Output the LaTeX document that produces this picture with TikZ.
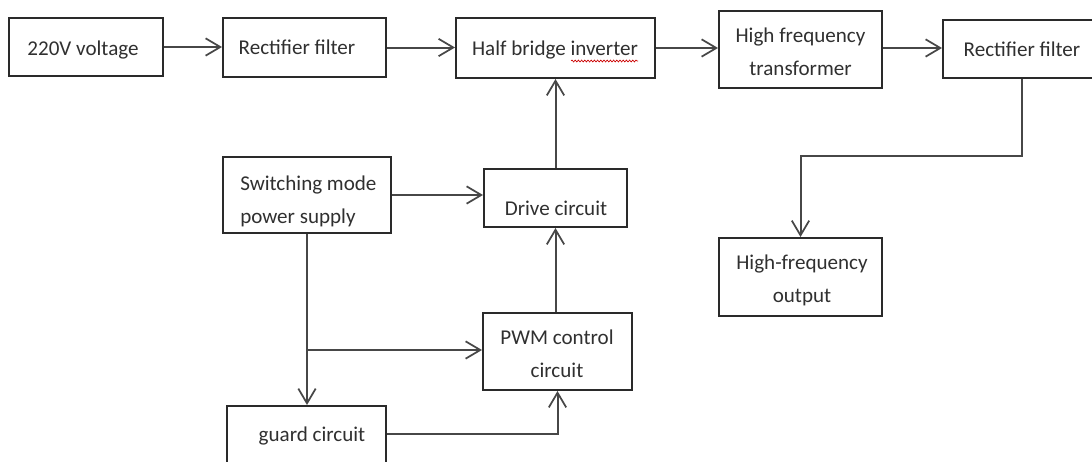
\documentclass[tikz,border=0pt]{standalone}
\usepackage{fontspec}
\setmainfont{Carlito}
\usetikzlibrary{arrows.meta,decorations.pathmorphing}
\definecolor{boxc}{HTML}{2A2A2A}
\definecolor{linec}{HTML}{474747}
\definecolor{txtc}{HTML}{303030}
\begin{document}
\begin{tikzpicture}[x=0.75pt,y=-0.75pt,
  blk/.style={draw=boxc,line width=1.5pt,inner sep=0pt},
  lbl/.style={inner sep=0pt,text=txtc,align=center,anchor=base,
    font=\fontsize{15.8}{24.75}\selectfont},
  arr/.style={draw=linec,line width=1.5pt,-{Straight Barb[length=11pt,width=13pt,line width=1.3pt]}}]
\useasboundingbox (0,0) rectangle (1092,461);
\clip (0,0) rectangle (1092,461);
\fill[white] (0,0) rectangle (1092,461);
% boxes
\node[blk,minimum width=115.5pt,minimum height=43.5pt] (b1) at (86,47) {};
\node[blk,minimum width=122.25pt,minimum height=44.25pt] (b2) at (304.5,47.5) {};
\node[blk,minimum width=149.25pt,minimum height=45pt] (b3) at (555.5,48) {};
\node[blk,minimum width=122.25pt,minimum height=57.75pt] (b4) at (800.5,49.5) {};
\node[blk,minimum width=118.5pt,minimum height=43.5pt] (b5) at (1022,49) {};
\node[blk,minimum width=126pt,minimum height=57pt] (sw) at (307,195) {};
\node[blk,minimum width=107.25pt,minimum height=43.5pt] (dr) at (555.5,198) {};
\node[blk,minimum width=111.75pt,minimum height=57.75pt] (pwm) at (557.5,351.5) {};
\node[blk,minimum width=119.25pt,minimum height=43.5pt] (gd) at (306.5,435) {};
\node[blk,minimum width=122.25pt,minimum height=58.5pt] (out) at (800.5,277) {};
% texts (anchor base = baseline of last line)
\node[lbl] (t1) at (83,55) {220V voltage};
\node[lbl] (t2) at (297,54.5) {Rectifier filter};
\node[lbl] (t3) at (555,55) {Half bridge inverter};
\node[lbl] (t4) at (800.5,75) {High frequency\\transformer};
\node[lbl] (t5) at (1022,56) {Rectifier filter};
\node[lbl,anchor=base west,align=left] (tsw) at (240,223) {Switching mode\\power supply};
\node[lbl] (tdr) at (556,215) {Drive circuit};
\node[lbl] (tpwm) at (557,377.3) {PWM control\\circuit};
\node[lbl] (tgd) at (312,441.5) {guard circuit};
\node[lbl] (tout) at (802,302.7) {High-frequency\\output};
% spell-check squiggle
\draw[red!80!black,line width=0.5pt,decorate,decoration={snake,amplitude=0.7pt,segment length=2.4pt}] (571,61) -- (638,61);
% connectors
\coordinate (k) at (1022,156);
\coordinate (j) at (307,350);
\draw[arr] (b1.east) -- (b1.east -| b2.west);
\draw[arr] (b2.east) -- (b2.east -| b3.west);
\draw[arr] (b3.east) -- (b3.east -| b4.west);
\draw[arr] (b3.east -| b4.east) -- (b3.east -| b5.west);
\draw[arr] (b5.south) -- (b5.south |- k) -| (out.north);
\draw[arr] (dr.north) -- (b3.south);
\draw[arr] (sw.east) -- (sw.east -| dr.west);
\draw[arr] (dr.south |- pwm.north) -- (dr.south);
\draw[arr] (sw.south) -- (sw.south |- gd.north);
\draw[arr] (j) -- (j -| pwm.west);
\draw[arr] ([yshift=0.75pt]gd.east) -| (pwm.south);
\end{tikzpicture}
\end{document}
